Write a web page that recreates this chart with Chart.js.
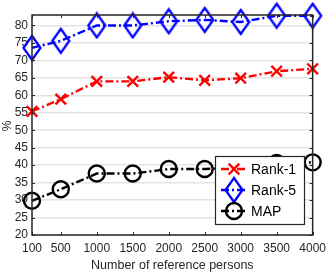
<!DOCTYPE html>
<html><head><meta charset="utf-8">
<script src="https://cdn.jsdelivr.net/npm/chart.js@4/dist/chart.umd.min.js"></script>
<style>html,body{margin:0;padding:0;background:#fff;}#wrap{width:332px;height:273px;}</style>
</head><body><div id="wrap"><canvas id="c" width="332" height="273"></canvas></div>
<script>
const persons = [100, 500, 1000, 1500, 2000, 2500, 3000, 3500, 4000];
const rank1 = [55.4, 58.9, 64.0, 64.0, 65.2, 64.3, 64.9, 66.9, 67.6];
const rank5 = [73.6, 75.6, 80.0, 80.0, 81.2, 81.6, 81.0, 82.8, 82.8];
const mapVals = [29.8, 33.1, 37.6, 37.6, 38.9, 38.9, 39.3, 40.6, 40.8];
const yTicks = [20, 25, 30, 35, 40, 45, 50, 55, 60, 65, 70, 75, 80];
const seriesNames = ['Rank-1', 'Rank-5', 'MAP'];
const xTitle = 'Number of reference persons';
const yTitle = '%';

const FONT = 'Liberation Sans, Arial, sans-serif';
const AX = '#262626';
const DASH = [8, 3, 2, 3];
const LW = 2.4;

function pts(vals){ return persons.map((p,i)=>({x:p,y:vals[i]})); }

// tall diamond marker (MATLAB style)
const diamond = document.createElement('canvas');
diamond.width = 22; diamond.height = 28;
(function(){
  const d = diamond.getContext('2d');
  d.strokeStyle = '#0000ff'; d.lineWidth = 2.3; d.lineJoin = 'miter';
  d.beginPath();
  d.moveTo(11, 2); d.lineTo(19.5, 14); d.lineTo(11, 26); d.lineTo(2.5, 14); d.closePath();
  d.stroke();
})();

const styles = [
  {color:'#ff0000', pointStyle:'crossRot', radius:7.5},
  {color:'#0000ff', pointStyle:diamond, radius:9},
  {color:'#000000', pointStyle:'circle', radius:8}
];
const allVals = [rank1, rank5, mapVals];

const datasets = allVals.map((v,i)=>({
  label: seriesNames[i],
  data: pts(v),
  borderColor: styles[i].color,
  backgroundColor: 'rgba(0,0,0,0)',
  borderWidth: LW,
  borderDash: DASH,
  pointStyle: styles[i].pointStyle,
  pointRadius: styles[i].radius,
  pointBorderWidth: 2.4,
  pointBorderColor: styles[i].color,
  pointBackgroundColor: 'rgba(0,0,0,0)',
  tension: 0,
  clip: false
}));

const framePlugin = {
  id:'frame',
  afterDatasetsDraw(chart){
    const {ctx, chartArea:a, scales} = chart;
    ctx.save();
    ctx.strokeStyle = AX; ctx.lineWidth = 1.5;
    ctx.strokeRect(a.left, a.top, a.right-a.left, a.bottom-a.top);
    ctx.lineWidth = 1;
    const tl = 3;
    persons.forEach(p=>{
      const x = Math.round(scales.x.getPixelForValue(p))+0.5;
      ctx.beginPath(); ctx.moveTo(x,a.bottom); ctx.lineTo(x,a.bottom-tl);
      ctx.moveTo(x,a.top); ctx.lineTo(x,a.top+tl); ctx.stroke();
    });
    yTicks.forEach(t=>{
      const y = Math.round(scales.y.getPixelForValue(t))+0.5;
      ctx.beginPath(); ctx.moveTo(a.left,y); ctx.lineTo(a.left+tl,y);
      ctx.moveTo(a.right,y); ctx.lineTo(a.right-tl,y); ctx.stroke();
    });
    // y title
    ctx.save();
    ctx.translate(8, (a.top+a.bottom)/2 + 1);
    ctx.rotate(-Math.PI/2);
    ctx.fillStyle = AX; ctx.font = '12px '+FONT; ctx.textAlign='center'; ctx.textBaseline='middle';
    ctx.fillText(yTitle, 0, 0);
    ctx.restore();
    // legend
    const lx=215, ly=156, lw=89, lh=68;
    ctx.fillStyle='#fff'; ctx.fillRect(lx,ly,lw,lh);
    ctx.strokeStyle=AX; ctx.lineWidth=1.2; ctx.strokeRect(lx+0.5,ly+0.5,lw,lh);
    ctx.font = '14px '+FONT; ctx.textBaseline='middle'; ctx.textAlign='left';
    seriesNames.forEach((name,i)=>{
      const y = ly+13+i*21;
      const ds = chart.data.datasets[i];
      ctx.strokeStyle = ds.borderColor; ctx.lineWidth=LW; ctx.setLineDash(DASH);
      ctx.beginPath(); ctx.moveTo(lx+6,y); ctx.lineTo(lx+32,y); ctx.stroke();
      ctx.setLineDash([]);
      ctx.lineWidth = 2.4;
      ctx.fillStyle = 'rgba(0,0,0,0)';
      Chart.helpers.drawPoint(ctx, {pointStyle: ds.pointStyle, radius: ds.pointRadius, borderWidth:2.4, rotation:0}, lx+19, y);
      ctx.fillStyle='#000'; ctx.fillText(name, lx+36, y+1);
    });
    ctx.restore();
  }
};

new Chart(document.getElementById('c'), {
  type:'line',
  data:{datasets},
  options:{
    responsive:false, animation:false, devicePixelRatio:1,
    layout:{padding:{top:15,right:14,left:0,bottom:0}},
    plugins:{legend:{display:false}, tooltip:{enabled:false}},
    scales:{
      x:{type:'linear', min:100, max:4000,
        afterBuildTicks(s){ s.ticks = persons.map(v=>({value:v})); },
        afterFit(s){ s.height = 38; },
        grid:{display:false, drawTicks:false},
        border:{display:false},
        ticks:{color:AX, font:{family:FONT,size:12}, padding:6, maxRotation:0, autoSkip:false,
          callback:(v)=>String(v)},
        title:{display:true, text:xTitle, color:AX, font:{family:FONT,size:12.5}, padding:{top:4,bottom:0}}
      },
      y:{type:'linear', min:20, max:83,
        afterBuildTicks(s){ s.ticks = yTicks.map(v=>({value:v})); },
        afterFit(s){ s.width = 32; },
        grid:{color:'#e3e3e3', lineWidth:1.5, drawTicks:false},
        border:{display:false},
        ticks:{color:AX, font:{family:FONT,size:12}, padding:4, callback:(v)=>String(v)},
        title:{display:false}
      }
    }
  },
  plugins:[framePlugin]
});
</script></body></html>
